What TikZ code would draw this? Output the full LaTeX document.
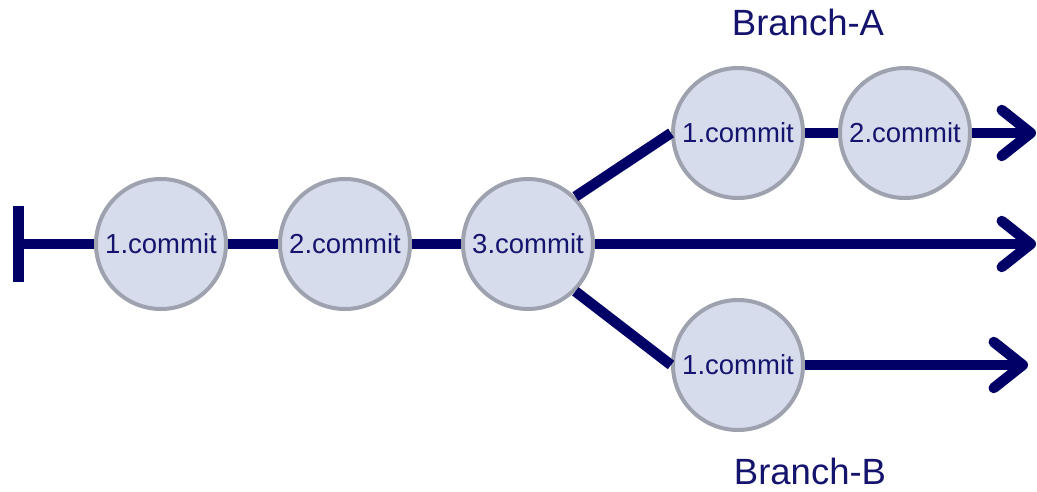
\documentclass[tikz,border=0pt]{standalone}
\usepackage{fontspec}
\setmainfont{Liberation Sans}
\usetikzlibrary{arrows.meta}
\definecolor{navyline}{HTML}{000066}
\definecolor{navytext}{HTML}{14146E}
\definecolor{cfill}{HTML}{D6DCEB}
\definecolor{cborder}{HTML}{9EA2AE}
\tikzset{
  commit/.style={circle, draw=cborder, fill=cfill, line width=4pt, minimum size=130pt, inner sep=0pt,
    text=navytext, font=\fontsize{27.5}{32}\selectfont},
  branchlabel/.style={text=navytext, font=\fontsize{36.5}{42}\selectfont, inner sep=0pt},
  conn/.style={draw=navyline, line width=10.5pt},
  arr/.style={conn, -{Straight Barb[length=29pt,width=46pt,round]}},
}
\begin{document}
\begin{tikzpicture}[x=1pt,y=-1pt]
\useasboundingbox (0,0) rectangle (1037,492);
\coordinate (start) at (13,244);
\coordinate (endM) at (1036,244);
\coordinate (endA) at (1036,133);
\coordinate (endB) at (1028,365);
\node[commit] (c1) at (161,244) {1.commit};
\node[commit] (c2) at (345,244) {2.commit};
\node[commit] (c3) at (528,244) {3.commit};
\node[commit] (a1) at (738,133) {1.commit};
\node[commit] (a2) at (905,133) {2.commit};
\node[commit] (b1) at (738,365) {1.commit};
\node[branchlabel] (la) at (808,22) {Branch-A};
\node[branchlabel] (lb) at (810,471) {Branch-B};
\draw[conn, {Bar[width=76pt]}-] (start) -- (c1);
\draw[conn] (c1) -- (c2);
\draw[conn] (c2) -- (c3);
\draw[arr] (c3) -- (endM);
\draw[conn] (c3.north east) -- (a1.west);
\draw[conn] (a1) -- (a2);
\draw[arr] (a2) -- (endA);
\draw[conn] (c3.south east) -- (b1.west);
\draw[arr] (b1) -- (endB);
\end{tikzpicture}
\end{document}
